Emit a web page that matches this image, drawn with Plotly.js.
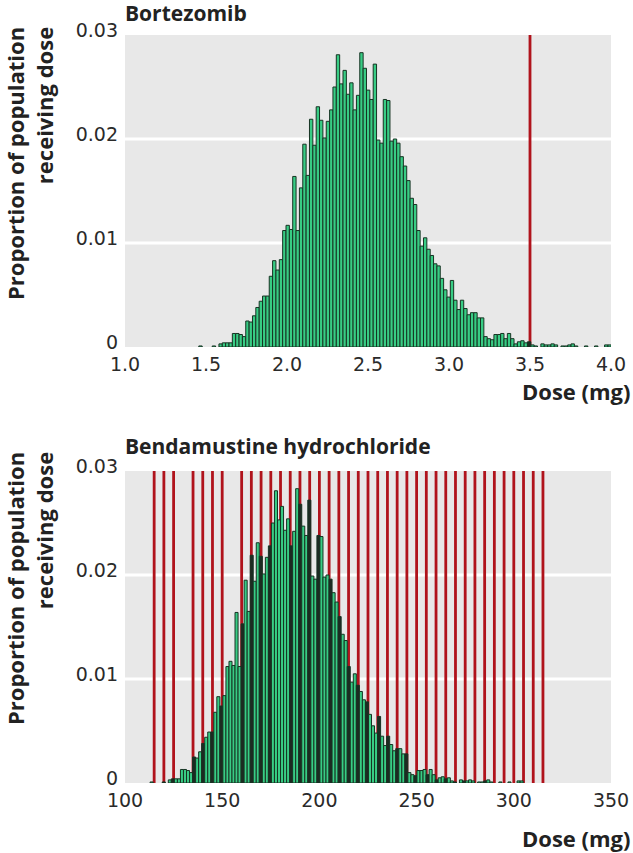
<!DOCTYPE html>
<html><head><meta charset="utf-8">
<script src="https://cdn.plot.ly/plotly-3.0.1.min.js"></script>
<style>html,body{margin:0;padding:0;background:#fff;} #chart{width:633px;height:853px;}</style>
</head><body><div id="chart"></div>
<script>
// Proportion of the simulated population falling in each dose bin (same population for both drugs)
const proportion = [
  0.0001, null, null, null, 0.0001, null, 0.0003, 0.0004, 0.0004, 0.0004,
  0.0013, 0.0013, 0.0012, 0.0010, 0.0025, 0.0024, 0.0030, 0.0038, 0.0044, 0.0049,
  0.0049, 0.0068, 0.0083, 0.0074, 0.0084, 0.0112, 0.0117, 0.0113, 0.0164, 0.0112,
  0.0153, 0.0195, 0.0165, 0.0219, 0.0194, 0.0231, 0.0218, 0.0201, 0.0217, 0.0228,
  0.0250, 0.0281, 0.0253, 0.0266, 0.0243, 0.0254, 0.0228, 0.0242, 0.0283, 0.0268,
  0.0247, 0.0238, 0.0272, 0.0199, 0.0196, 0.0238, 0.0237, 0.0198, 0.0200, 0.0196,
  0.0183, 0.0174, 0.0160, 0.0143, 0.0137, 0.0112, 0.0097, 0.0105, 0.0094, 0.0088,
  0.0080, 0.0078, 0.0066, 0.0055, 0.0048, 0.0064, 0.0045, 0.0036, 0.0045, 0.0037,
  0.0031, 0.0033, 0.0033, 0.0028, 0.0028, 0.0010, 0.0008, 0.0007, 0.0012, 0.0012,
  0.0013, 0.0008, 0.0013, 0.0008, 0.0003, 0.0005, 0.0006, 0.0004, 0.0005, 0.0002,
  0.0001, null, 0.0003, 0.0002, 0.0002, 0.0003, 0.0002, null, 0.0001, 0.0001,
  0.0002, 0.0003, 0.0001, null, null, 0.0001, null, null, 0.0001, null,
  null, 0.0002, 0.0002
];

// Bin geometry (centre of first bin and bin width), in mg
const bortezomibBinStart = 1.466;
const bortezomibBinWidth = 0.0207;
const bendamustineBinStart = 113.7;
const bendamustineBinWidth = 1.56;

// Doses available as whole vials (red lines)
const bortezomibVialDoses = [3.5];
const bendamustineVialDoses = [115, 120, 125, 135, 140, 145, 150, 160, 165, 170, 175, 180, 185, 190, 195,
  200, 205, 210, 215, 220, 225, 230, 235, 240, 245, 250, 255, 260, 265, 270, 275, 280, 285, 290, 295,
  300, 305, 310, 315];

// Axis ticks
const bortezomibTicks = [1.0, 1.5, 2.0, 2.5, 3.0, 3.5, 4.0];
const bortezomibTickText = ['1.0', '1.5', '2.0', '2.5', '3.0', '3.5', '4.0'];
const bendamustineTicks = [100, 150, 200, 250, 300, 350];
const bendamustineTickText = ['100', '150', '200', '250', '300', '350'];
const yTicks = [0, 0.01, 0.02, 0.03];
const yTickText = ['0', '0.01', '0.02', '0.03'];
const yGridValues = [0.01, 0.02];

const BAR_FILL = '#38cc84';
const BAR_DARK = '#1d2a22';
const BAR_EDGE = '#173323';
const RED = '#b0131c';

function binColors(start, width, vials) {
  return proportion.map((_, i) => {
    const c = start + i * width;
    return vials.some(v => Math.abs(v - c) <= width / 2) ? BAR_DARK : BAR_FILL;
  });
}

const traces = [
  {
    type: 'bar', x0: bortezomibBinStart, dx: bortezomibBinWidth, y: proportion,
    xaxis: 'x', yaxis: 'y',
    marker: {color: binColors(bortezomibBinStart, bortezomibBinWidth, bortezomibVialDoses), line: {color: BAR_EDGE, width: 1}},
    hoverinfo: 'skip'
  },
  {
    type: 'bar', x0: bendamustineBinStart, dx: bendamustineBinWidth, y: proportion,
    xaxis: 'x2', yaxis: 'y2',
    marker: {color: binColors(bendamustineBinStart, bendamustineBinWidth, bendamustineVialDoses), line: {color: BAR_EDGE, width: 1}},
    hoverinfo: 'skip'
  }
];

// white horizontal gridlines first, then the red vial lines (all beneath the bars)
const shapes = [];
[['x', 'y'], ['x2', 'y2']].forEach(([xa, ya]) => {
  yGridValues.forEach(g => shapes.push({type: 'line', xref: xa + ' domain', yref: ya, x0: 0, x1: 1, y0: g, y1: g, layer: 'below', line: {color: '#ffffff', width: 3}}));
});
bortezomibVialDoses.forEach(v => shapes.push({type: 'line', xref: 'x', yref: 'y', x0: v, x1: v, y0: 0, y1: 0.03, layer: 'below', line: {color: RED, width: 2.8}}));
bendamustineVialDoses.forEach(v => shapes.push({type: 'line', xref: 'x2', yref: 'y2', x0: v, x1: v, y0: 0, y1: 0.03, layer: 'below', line: {color: RED, width: 2.8}}));

const tickFont = {family: 'DejaVu Sans', size: 19, color: '#2a2a2a'};
const titleFont = {family: 'Open Sans', size: 21, color: '#222', weight: 700};
const xTitleFont = {family: 'Open Sans', size: 22, color: '#222', weight: 700};
const yTitleFont = {family: 'Open Sans', size: 22, color: '#222', weight: 700};

// pixel helpers for paper coordinates (plot area: x 125-611, y 35-783)
const L = 125, T = 35, W = 486, H = 748;
const px = x => (x - L) / W;
const py = y => (T + H - y) / H;

const xCommon = {showgrid: false, zeroline: false, showline: false, ticks: '', tickfont: tickFont, ticklabelstandoff: 4, fixedrange: true};
const yCommon = {range: [0, 0.03], tickvals: yTicks, ticktext: yTickText, showgrid: false,
  zeroline: false, showline: false, ticks: '', tickfont: tickFont, ticklabelstandoff: 6, ticklabelshift: -5, fixedrange: true};

const layout = {
  width: 633, height: 853,
  margin: {l: L, r: 633 - L - W, t: T, b: 853 - T - H},
  paper_bgcolor: '#ffffff', plot_bgcolor: '#e8e8e8',
  showlegend: false, bargap: 0,
  xaxis: Object.assign({}, xCommon, {domain: [0, 1], anchor: 'y', range: [1, 4], tickvals: bortezomibTicks, ticktext: bortezomibTickText}),
  yaxis: Object.assign({}, yCommon, {domain: [py(347), 1], anchor: 'x'}),
  xaxis2: Object.assign({}, xCommon, {domain: [0, 1], anchor: 'y2', range: [100, 350], tickvals: bendamustineTicks, ticktext: bendamustineTickText}),
  yaxis2: Object.assign({}, yCommon, {domain: [0, py(471)], anchor: 'x2'}),
  shapes: shapes,
  annotations: [
    {text: 'Bortezomib', xref: 'paper', yref: 'paper', x: px(123), y: py(13), xanchor: 'left', yanchor: 'middle', showarrow: false, font: titleFont},
    {text: 'Bendamustine hydrochloride', xref: 'paper', yref: 'paper', x: px(123), y: py(446), xanchor: 'left', yanchor: 'middle', showarrow: false, font: titleFont},
    {text: 'Dose (mg)', xref: 'paper', yref: 'paper', x: px(633), y: py(391), xanchor: 'right', yanchor: 'middle', showarrow: false, font: xTitleFont},
    {text: 'Dose (mg)', xref: 'paper', yref: 'paper', x: px(633), y: py(838), xanchor: 'right', yanchor: 'middle', showarrow: false, font: xTitleFont},
    {text: 'Proportion of population<br>receiving dose', xref: 'paper', yref: 'paper', x: px(-2), y: py(25), xanchor: 'left', yanchor: 'top', align: 'right', textangle: -90, showarrow: false, font: yTitleFont},
    {text: 'Proportion of population<br>receiving dose', xref: 'paper', yref: 'paper', x: px(-2), y: py(450), xanchor: 'left', yanchor: 'top', align: 'right', textangle: -90, showarrow: false, font: yTitleFont}
  ]
};

Plotly.newPlot('chart', traces, layout, {staticPlot: true, displayModeBar: false});
</script>
</body></html>
